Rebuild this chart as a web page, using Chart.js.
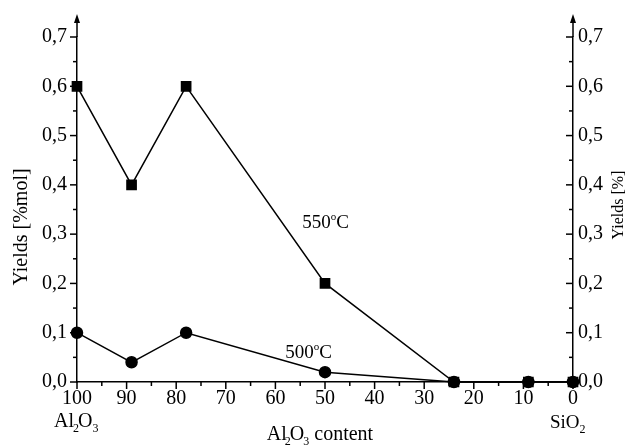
<!DOCTYPE html>
<html lang="en">
<head>
    <meta charset="UTF-8">
    <title>Yields vs Al2O3 content</title>
    <script src="https://cdn.jsdelivr.net/npm/chart.js"></script>
    <style>
        body {
            margin: 0;
            background: #fff;
        }
        .chart-box {
            width: 625px;
            height: 446px;
        }
    </style>
</head>
<body>
    <div class="chart-box"><canvas id="myChart"></canvas></div>

    <script>
        // data
        const al2o3Content = [100, 89, 78, 50, 24, 9, 0];
        const yields550 = [0.6, 0.4, 0.6, 0.2, 0.0, 0.0, 0.0];
        const yields500 = [0.1, 0.04, 0.1, 0.02, 0.0, 0.0, 0.0];
        const xTicks = [100, 90, 80, 70, 60, 50, 40, 30, 20, 10, 0];
        const yTicks = [0, 0.1, 0.2, 0.3, 0.4, 0.5, 0.6, 0.7];

        // curve labels, in data units (x, y of text baseline start)
        const curveLabels = [
            { text: '550', x: 54.6, y: 0.312 },
            { text: '500', x: 58, y: 0.049 }
        ];

        const FONT = "'Liberation Serif', 'Times New Roman', serif";

        function toPoints(xs, ys) {
            return xs.map((v, i) => ({ x: v, y: ys[i] }));
        }

        // draws text made of normal / sub / sup parts, starting at x
        function richText(ctx, parts, x, y, size) {
            let cx = x;
            parts.forEach(p => {
                let fs = size, dy = 0;
                if (p.sub) { fs = Math.round(size * 0.62); dy = 5; }
                if (p.sup) { fs = Math.round(size * 0.6); dy = -8; }
                ctx.font = fs + 'px ' + FONT;
                ctx.fillText(p.t, cx + (p.dx || 0), y + dy);
                cx += ctx.measureText(p.t).width + (p.dx || 0);
            });
            return cx - x;
        }

        function richWidth(ctx, parts, size) {
            let w = 0;
            parts.forEach(p => {
                let fs = size;
                if (p.sub) fs = Math.round(size * 0.62);
                if (p.sup) fs = Math.round(size * 0.6);
                ctx.font = fs + 'px ' + FONT;
                w += ctx.measureText(p.t).width + (p.dx || 0);
            });
            return w;
        }

        const axisDecor = {
            id: 'axisDecor',
            afterDraw(chart) {
                const ctx = chart.ctx;
                const a = chart.chartArea;
                const x = chart.scales.x;
                const y = chart.scales.y;

                ctx.save();
                ctx.strokeStyle = '#000';
                ctx.fillStyle = '#000';
                ctx.lineWidth = 1.5;

                function seg(x1, y1, x2, y2) {
                    ctx.beginPath();
                    ctx.moveTo(x1, y1);
                    ctx.lineTo(x2, y2);
                    ctx.stroke();
                }

                // y ticks: left outward, right inward
                yTicks.forEach((v, i) => {
                    const py = y.getPixelForValue(v);
                    seg(a.left - 7, py, a.left, py);
                    seg(a.right - 7, py, a.right, py);
                    if (i < yTicks.length - 1) {
                        const pm = y.getPixelForValue((v + yTicks[i + 1]) / 2);
                        seg(a.left - 4, pm, a.left, pm);
                        seg(a.right - 4, pm, a.right, pm);
                    }
                });

                // x ticks pointing down
                xTicks.forEach((v, i) => {
                    const px = x.getPixelForValue(v);
                    seg(px, a.bottom, px, a.bottom + 7);
                    if (i < xTicks.length - 1) {
                        const pm = x.getPixelForValue((v + xTicks[i + 1]) / 2);
                        seg(pm, a.bottom, pm, a.bottom + 4);
                    }
                });

                // vertical axes go on past 0,7 and end in an arrow
                [a.left, a.right].forEach(ax => {
                    seg(ax, a.top, ax, a.top - 18);
                    ctx.beginPath();
                    ctx.moveTo(ax, a.top - 23);
                    ctx.lineTo(ax - 3, a.top - 14);
                    ctx.lineTo(ax + 3, a.top - 14);
                    ctx.closePath();
                    ctx.fill();
                });

                ctx.textBaseline = 'alphabetic';
                ctx.textAlign = 'left';

                // axis titles
                ctx.save();
                ctx.translate(22, 227);
                ctx.rotate(-Math.PI / 2);
                ctx.textAlign = 'center';
                ctx.textBaseline = 'middle';
                ctx.font = '20px ' + FONT;
                ctx.fillText('Yields [%mol]', 0, 0);
                ctx.restore();

                ctx.save();
                ctx.translate(619, 205);
                ctx.rotate(-Math.PI / 2);
                ctx.textAlign = 'center';
                ctx.textBaseline = 'middle';
                ctx.font = '16px ' + FONT;
                ctx.fillText('Yields [%]', 0, 0);
                ctx.restore();

                const titleParts = [
                    { t: 'Al' }, { t: '2', sub: true, dx: -2 }, { t: 'O', dx: -1 },
                    { t: '3', sub: true, dx: -1 }, { t: ' content' }
                ];
                const tw = richWidth(ctx, titleParts, 20);
                richText(ctx, titleParts, (a.left + a.right) / 2 - 5 - tw / 2, 440, 20);

                // end labels under 100 and 0
                richText(ctx, [{ t: 'Al' }, { t: '2', sub: true, dx: -1 }, { t: 'O', dx: -1 }, { t: '3', sub: true }],
                    x.getPixelForValue(100) - 23, 427, 20);
                richText(ctx, [{ t: 'SiO' }, { t: '2', sub: true }],
                    x.getPixelForValue(0) - 23, 428, 19);

                // temperature labels on the curves
                curveLabels.forEach(l => {
                    richText(ctx, [{ t: l.text }, { t: 'o', sup: true }, { t: 'C' }],
                        x.getPixelForValue(l.x), y.getPixelForValue(l.y), 19);
                });

                ctx.restore();
            }
        };

        const tickFont = { family: FONT, size: 20 };

        const ctx = document.getElementById('myChart').getContext('2d');
        const myChart = new Chart(ctx, {
            type: 'line',
            data: {
                datasets: [
                    {
                        label: '550°C',
                        data: toPoints(al2o3Content, yields550),
                        borderColor: '#000',
                        backgroundColor: '#000',
                        borderWidth: 1.5,
                        pointStyle: 'rect',
                        pointRadius: 6.5,
                        pointHoverRadius: 6.5,
                        tension: 0
                    },
                    {
                        label: '500°C',
                        data: toPoints(al2o3Content, yields500),
                        borderColor: '#000',
                        backgroundColor: '#000',
                        borderWidth: 1.5,
                        pointStyle: 'circle',
                        pointRadius: 5.5,
                        pointHoverRadius: 5.5,
                        tension: 0
                    }
                ]
            },
            options: {
                responsive: true,
                maintainAspectRatio: false,
                animation: false,
                clip: false,
                layout: { padding: { top: 37 } },
                plugins: {
                    legend: { display: false },
                    tooltip: { enabled: false }
                },
                scales: {
                    x: {
                        type: 'linear',
                        reverse: true,
                        min: 0,
                        max: 100,
                        afterBuildTicks: s => { s.ticks = xTicks.map(v => ({ value: v })); },
                        afterFit: s => { s.height = 64; },
                        grid: { display: true, drawOnChartArea: false, drawTicks: false },
                        border: { display: true, color: '#000', width: 1.5 },
                        ticks: { color: '#000', font: tickFont, padding: 5, maxRotation: 0, autoSkip: false }
                    },
                    y: {
                        position: 'left',
                        min: 0,
                        max: 0.7,
                        afterBuildTicks: s => { s.ticks = yTicks.map(v => ({ value: v })); },
                        afterFit: s => { s.width = 77; },
                        grid: { display: true, drawOnChartArea: false, drawTicks: false },
                        border: { display: true, color: '#000', width: 1.5 },
                        ticks: {
                            color: '#000', font: tickFont, padding: 10,
                            callback: v => v.toFixed(1).replace('.', ',')
                        }
                    },
                    y2: {
                        position: 'right',
                        min: 0,
                        max: 0.7,
                        afterBuildTicks: s => { s.ticks = yTicks.map(v => ({ value: v })); },
                        afterFit: s => { s.width = 52; },
                        grid: { display: true, drawOnChartArea: false, drawTicks: false },
                        border: { display: true, color: '#000', width: 1.5 },
                        ticks: {
                            color: '#000', font: tickFont, padding: 5,
                            callback: v => v.toFixed(1).replace('.', ',')
                        }
                    }
                }
            },
            plugins: [axisDecor]
        });
    </script>
</body>
</html>
